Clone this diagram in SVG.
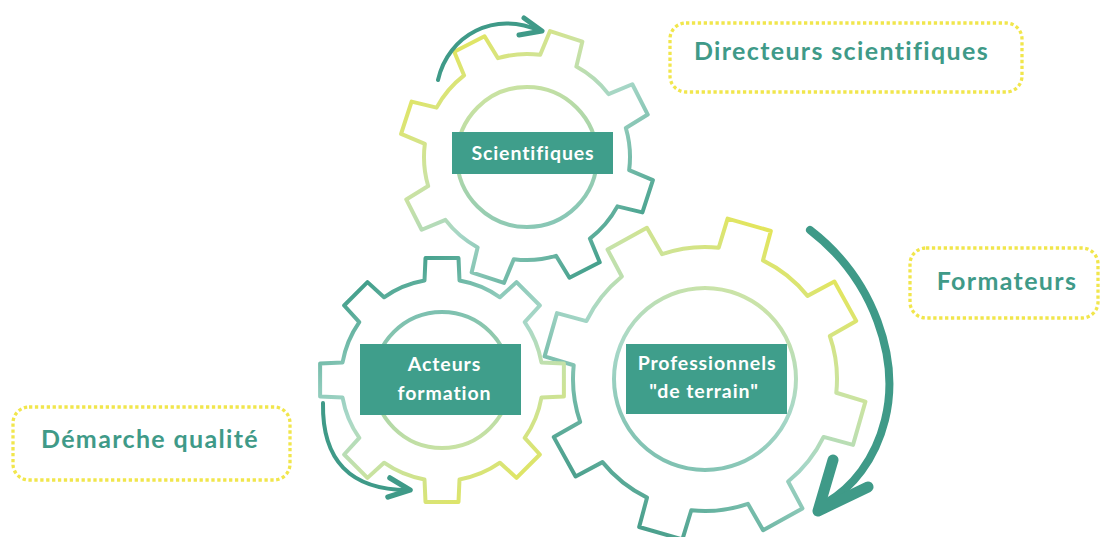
<svg xmlns="http://www.w3.org/2000/svg" width="1101" height="537" viewBox="0 0 1101 537">
<defs>
<linearGradient id="gg1" gradientUnits="userSpaceOnUse" x1="-90" y1="-100" x2="90" y2="100" gradientTransform="rotate(-18)">
<stop offset="0" stop-color="#e3e55b"/><stop offset="0.3" stop-color="#cde3a0"/><stop offset="0.55" stop-color="#a5d6c6"/><stop offset="0.8" stop-color="#6fb8a6"/><stop offset="1" stop-color="#3f9d89"/>
</linearGradient>
<linearGradient id="gg2" gradientUnits="userSpaceOnUse" x1="-60" y1="-110" x2="60" y2="120">
<stop offset="0" stop-color="#3f9d89"/><stop offset="0.3" stop-color="#8fcbbb"/><stop offset="0.45" stop-color="#a9d8c8"/><stop offset="0.65" stop-color="#c6e2a6"/><stop offset="1" stop-color="#e3e55b"/>
</linearGradient>
<linearGradient id="gg3" gradientUnits="userSpaceOnUse" x1="90" y1="-130" x2="-90" y2="130" gradientTransform="rotate(-16)">
<stop offset="0" stop-color="#e3e55b"/><stop offset="0.3" stop-color="#c9e3a4"/><stop offset="0.55" stop-color="#a6d7c7"/><stop offset="0.8" stop-color="#6cb6a4"/><stop offset="1" stop-color="#4a9f8c"/>
</linearGradient>
<linearGradient id="cg1" x1="0.3" y1="0" x2="0.7" y2="1">
<stop offset="0" stop-color="#cbe3a1"/><stop offset="1" stop-color="#86c6b6"/>
</linearGradient>
<linearGradient id="cg2" x1="0.4" y1="0" x2="0.6" y2="1">
<stop offset="0" stop-color="#7cc0b0"/><stop offset="1" stop-color="#c8e2a3"/>
</linearGradient>
<linearGradient id="cg3" x1="0.7" y1="0" x2="0.3" y2="1">
<stop offset="0" stop-color="#cde4a5"/><stop offset="0.5" stop-color="#a8d8c8"/><stop offset="1" stop-color="#7dc0b0"/>
</linearGradient>
</defs>
<style>
.gear{fill:none;stroke-width:4;stroke-linejoin:round}
.inner{fill:none;stroke-width:4}
.box{fill:#3f9e8b}
.lbl{font-family:Lato,"Open Sans",sans-serif;font-weight:bold;font-size:19.5px;letter-spacing:0.9px;font-variant-ligatures:none;fill:#ffffff;text-anchor:middle}
.note{fill:none;stroke:#f1e64c;stroke-width:3.3;stroke-dasharray:3.3 2.6}
.ntxt{font-family:Lato,"Open Sans",sans-serif;font-weight:bold;font-size:25px;letter-spacing:1.35px;font-variant-ligatures:none;fill:#3f9a88;text-anchor:middle}
.arr{fill:none;stroke:#3f9a88;stroke-linecap:round;stroke-linejoin:round}
</style>
<rect width="1101" height="537" fill="#ffffff"/>

<g id="gear-professionnels">
<path class="gear" stroke="url(#gg3)" transform="translate(705,379) rotate(16)" d="M129.98,-23 L160.43,-22.5 L160.43,22.5 L129.98,23 A132,132 0 0 1 108.17,75.65 L129.35,97.53 L97.53,129.35 L75.65,108.17 A132,132 0 0 1 23,129.98 L22.5,160.43 L-22.5,160.43 L-23,129.98 A132,132 0 0 1 -75.65,108.17 L-97.53,129.35 L-129.35,97.53 L-108.17,75.65 A132,132 0 0 1 -129.98,23 L-160.43,22.5 L-160.43,-22.5 L-129.98,-23 A132,132 0 0 1 -108.17,-75.65 L-129.35,-97.53 L-97.53,-129.35 L-75.65,-108.17 A132,132 0 0 1 -23,-129.98 L-22.5,-160.43 L22.5,-160.43 L23,-129.98 A132,132 0 0 1 75.65,-108.17 L97.53,-129.35 L129.35,-97.53 L108.17,-75.65 A132,132 0 0 1 129.98,-23 Z"/>
<circle class="inner" cx="705" cy="379" r="91" stroke="url(#cg3)"/>
<rect class="box" x="626" y="344" width="161" height="70"/>
<text class="lbl" x="707" y="370">Professionnels</text>
<text class="lbl" x="704" y="398">"de terrain"</text>
</g>

<g id="gear-acteurs">
<path class="gear" stroke="url(#gg2)" transform="translate(442,380)" d="M99.47,-17.5 L121.89,-16.5 L121.89,16.5 L99.47,17.5 A101,101 0 0 1 82.71,57.96 L97.86,74.52 L74.52,97.86 L57.96,82.71 A101,101 0 0 1 17.5,99.47 L16.5,121.89 L-16.5,121.89 L-17.5,99.47 A101,101 0 0 1 -57.96,82.71 L-74.52,97.86 L-97.86,74.52 L-82.71,57.96 A101,101 0 0 1 -99.47,17.5 L-121.89,16.5 L-121.89,-16.5 L-99.47,-17.5 A101,101 0 0 1 -82.71,-57.96 L-97.86,-74.52 L-74.52,-97.86 L-57.96,-82.71 A101,101 0 0 1 -17.5,-99.47 L-16.5,-121.89 L16.5,-121.89 L17.5,-99.47 A101,101 0 0 1 57.96,-82.71 L74.52,-97.86 L97.86,-74.52 L82.71,-57.96 A101,101 0 0 1 99.47,-17.5 Z"/>
<circle class="inner" cx="442" cy="380" r="68" stroke="url(#cg2)"/>
<rect class="box" x="360" y="344" width="161" height="71"/>
<text class="lbl" x="444.5" y="371">Acteurs</text>
<text class="lbl" x="444.5" y="400">formation</text>
</g>

<g id="gear-scientifiques">
<path class="gear" stroke="url(#gg1)" transform="translate(527,157) rotate(18)" d="M101.23,-19 L126.87,-17 L126.87,17 L101.23,19 A103,103 0 0 1 85.02,58.15 L101.73,77.69 L77.69,101.73 L58.15,85.02 A103,103 0 0 1 19,101.23 L17,126.87 L-17,126.87 L-19,101.23 A103,103 0 0 1 -58.15,85.02 L-77.69,101.73 L-101.73,77.69 L-85.02,58.15 A103,103 0 0 1 -101.23,19 L-126.87,17 L-126.87,-17 L-101.23,-19 A103,103 0 0 1 -85.02,-58.15 L-101.73,-77.69 L-77.69,-101.73 L-58.15,-85.02 A103,103 0 0 1 -19,-101.23 L-17,-126.87 L17,-126.87 L19,-101.23 A103,103 0 0 1 58.15,-85.02 L77.69,-101.73 L101.73,-77.69 L85.02,-58.15 A103,103 0 0 1 101.23,-19 Z"/>
<circle class="inner" cx="527" cy="157" r="70" stroke="url(#cg1)"/>
<rect class="box" x="452" y="132" width="161" height="42"/>
<text class="lbl" x="533" y="159.5">Scientifiques</text>
</g>

<g id="note-directeurs">
<rect class="note" x="670" y="23" width="352" height="69" rx="16"/>
<text class="ntxt" x="841.5" y="60">Directeurs scientifiques</text>
</g>
<g id="note-formateurs">
<rect class="note" x="910" y="248" width="188" height="70" rx="16"/>
<text class="ntxt" x="1007" y="290">Formateurs</text>
</g>
<g id="note-demarche">
<rect class="note" x="13" y="407" width="277" height="73" rx="16"/>
<text class="ntxt" x="150" y="448">Démarche qualité</text>
</g>

<g id="connectors">
<path class="arr" stroke-width="4" d="M438,80 C448,35 495,10 540,31"/>
<polyline class="arr" stroke-width="5" points="524,18 542,31 519,35"/>
<path class="arr" stroke-width="4" d="M323,403 C322,460 350,490 408,490"/>
<polyline class="arr" stroke-width="5.5" points="390,478 410,490 388,497"/>
<path class="arr" stroke-width="8" d="M810,230 C875,280 900,360 885,420 C875,460 852,488 826,503"/>
<polyline class="arr" stroke-width="11" points="833,460 818,511 868,487"/>
</g>
</svg>
